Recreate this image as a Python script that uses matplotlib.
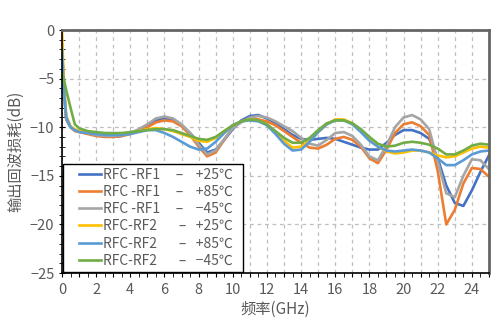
import numpy as np
import matplotlib
matplotlib.use("Agg")
import matplotlib.pyplot as plt
from matplotlib.ticker import MultipleLocator, FuncFormatter
from matplotlib.lines import Line2D
from matplotlib.legend_handler import HandlerLine2D

plt.rcParams['font.family'] = ['Noto Sans CJK SC', 'DejaVu Sans']

# frequency points (GHz)
freq = [0, 0.1, 0.25, 0.5, 0.75, 1.0,
        1.5, 2, 2.5, 3, 3.5, 4, 4.5, 5, 5.5, 6, 6.5, 7, 7.5, 8, 8.5, 9, 9.5, 10,
        10.5, 11, 11.5, 12, 12.5, 13, 13.5, 14, 14.5, 15, 15.5, 16, 16.5, 17, 17.5,
        18, 18.5, 19, 19.5, 20, 20.5, 21, 21.5, 22, 22.5, 23, 23.5, 24, 24.5, 25]

rf1_p25 = [-1.5, -6.0, -9.2, -10.0, -10.3, -10.4,
           -10.6, -10.8, -10.9, -11.0, -10.9, -10.6, -10.3, -9.8, -9.3, -9.1, -9.3, -9.8, -10.6, -11.6, -12.6, -12.3, -11.3, -10.2,
           -9.3, -8.85, -8.75, -9.1, -9.6, -10.2, -10.8, -11.2, -11.3, -11.2, -11.1, -11.2, -11.5, -11.8, -12.1,
           -12.3, -12.3, -11.6, -10.8, -10.3, -10.3, -10.6, -11.2, -13.2, -16.0, -17.8, -18.1, -16.5, -14.6, -12.9]
rf1_p85 = [-1.5, -6.0, -9.2, -10.0, -10.4, -10.5,
           -10.7, -10.9, -11.0, -11.0, -10.9, -10.7, -10.4, -10.0, -9.5, -9.3, -9.4, -9.9, -10.8, -12.0, -13.0, -12.6, -11.3, -10.0,
           -9.4, -9.1, -9.2, -9.4, -9.8, -10.4, -11.0, -11.6, -12.1, -12.2, -11.8, -11.2, -11.0, -11.3, -12.0,
           -13.2, -13.7, -12.3, -10.6, -9.7, -9.5, -9.9, -10.8, -14.5, -20.0, -18.5, -15.8, -14.2, -14.3, -15.1]
rf1_m45 = [-1.5, -6.0, -9.2, -10.0, -10.3, -10.4,
           -10.6, -10.8, -10.9, -10.9, -10.8, -10.6, -10.2, -9.7, -9.1, -8.9, -9.1, -9.7, -10.6, -11.8, -12.8, -12.4, -11.2, -10.1,
           -9.5, -9.0, -8.85, -9.0, -9.4, -9.9, -10.4, -11.1, -11.7, -11.9, -11.3, -10.6, -10.5, -10.9, -11.8,
           -13.0, -13.4, -11.9, -10.0, -9.0, -8.75, -9.2, -10.2, -13.5, -16.8, -17.2, -15.0, -13.3, -13.4, -14.3]
rf2_p25 = [0.0, -5.0, -8.8, -9.9, -10.2, -10.4,
           -10.5, -10.6, -10.7, -10.7, -10.7, -10.6, -10.4, -10.2, -10.1, -10.2, -10.4, -10.7, -11.0, -11.4, -11.5, -11.1, -10.4, -9.8,
           -9.4, -9.2, -9.3, -9.7, -10.5, -11.4, -12.1, -12.0, -11.4, -10.5, -9.7, -9.2, -9.2, -9.6, -10.3,
           -11.2, -12.0, -12.5, -12.7, -12.6, -12.4, -12.4, -12.6, -12.9, -13.1, -13.0, -12.6, -12.2, -12.0, -12.1]
rf2_p85 = [-2.0, -6.0, -9.0, -10.0, -10.3, -10.5,
           -10.6, -10.7, -10.8, -10.8, -10.8, -10.7, -10.5, -10.3, -10.3, -10.6, -11.0, -11.5, -12.0, -12.3, -12.2, -11.5, -10.6, -9.8,
           -9.4, -9.3, -9.4, -9.8, -10.7, -11.7, -12.4, -12.3, -11.5, -10.5, -9.7, -9.3, -9.3, -9.7, -10.5,
           -11.4, -12.0, -12.4, -12.5, -12.4, -12.3, -12.4, -12.6, -13.2, -13.9, -13.9, -13.4, -12.8, -12.5, -12.4]
rf2_m45 = [-4.3, -5.0, -6.2, -8.0, -9.7, -10.1,
           -10.4, -10.5, -10.6, -10.6, -10.6, -10.5, -10.4, -10.3, -10.2, -10.2, -10.3, -10.6, -10.9, -11.2, -11.3, -11.0, -10.4, -9.8,
           -9.4, -9.2, -9.3, -9.7, -10.4, -11.1, -11.6, -11.6, -11.1, -10.3, -9.6, -9.3, -9.3, -9.6, -10.2,
           -11.0, -11.7, -12.0, -11.9, -11.6, -11.5, -11.6, -11.8, -12.2, -12.8, -12.8, -12.4, -11.9, -11.7, -11.8]

series = [rf1_p25, rf1_p85, rf1_m45, rf2_p25, rf2_p85, rf2_m45]
labels = ['RFC -RF1     –    +25℃  ', 'RFC -RF1     –    +85℃  ', 'RFC -RF1     –    −45℃  ',
          'RFC-RF2       –   +25℃  ', 'RFC-RF2       –   +85℃  ', 'RFC-RF2       –   −45℃  ']
colors = ['#4472C4', '#ED7D31', '#A5A5A5', '#FFC000', '#5B9BD5', '#70AD47']

fig = plt.figure(figsize=(5.02, 3.24), dpi=100)
ax = fig.add_axes([0.1235, 0.1574, 0.8505, 0.75])

for s, lab, c in zip(series, labels, colors):
    ax.plot(freq, s, color=c, lw=1.9, label=lab)

ax.set_xlim(0, 25)
ax.set_ylim(-25, 0)
ax.xaxis.set_major_locator(MultipleLocator(1))
ax.xaxis.set_minor_locator(MultipleLocator(0.5))
ax.xaxis.set_major_formatter(FuncFormatter(lambda v, p: '%d' % v if int(round(v)) % 2 == 0 else ''))
ax.yaxis.set_major_locator(MultipleLocator(5))
ax.yaxis.set_minor_locator(MultipleLocator(1))
ax.yaxis.set_major_formatter(FuncFormatter(lambda v, p: '%d' % v if v >= 0 else '−%d' % -v))

ax.grid(True, which='major', color='#bfbfbf', ls=(0, (3, 3)), lw=0.9)
ax.tick_params(axis='both', which='both', colors='#595959', labelsize=10.5)
ax.tick_params(axis='x', which='both', direction='out', length=3, color='black', pad=4)
ax.tick_params(axis='y', which='both', direction='inout', length=5, color='black', pad=3)
for side in ['left', 'bottom']:
    ax.spines[side].set_color('black')
    ax.spines[side].set_linewidth(1.2)
for side in ['top', 'right']:
    ax.spines[side].set_color('#666666')
    ax.spines[side].set_linewidth(2)

ax.set_xlabel('频率(GHz)', color='#595959', fontsize=11, labelpad=3)
ax.set_ylabel('输出回波损耗(dB)', color='#595959', fontsize=11, labelpad=4)

leg = ax.legend(loc='lower left', bbox_to_anchor=(0.0, 0.0), borderaxespad=0.1,
                fontsize=10, handlelength=2.4, handletextpad=0.15, labelspacing=0.22,
                borderpad=0.3, fancybox=False, framealpha=1, edgecolor='black',
                handler_map={Line2D: HandlerLine2D(xpad=0.8)})
leg.get_frame().set_linewidth(1.0)
for t in leg.get_texts():
    t.set_color('#595959')

fig.savefig('out.png', dpi=100)
